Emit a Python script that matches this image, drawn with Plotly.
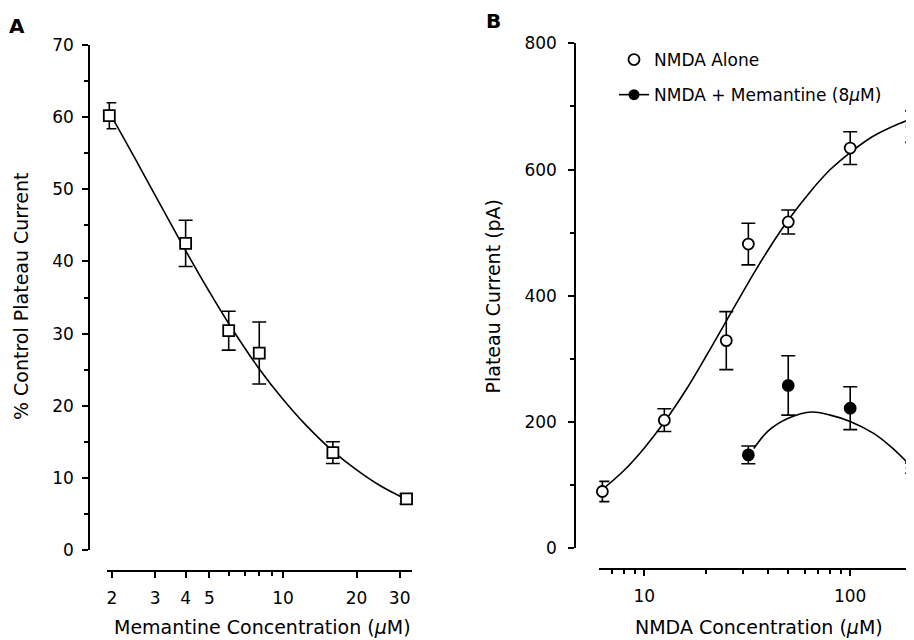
import math
import plotly.graph_objects as go

# ---------------- Data ----------------
# Panel A: memantine concentration-response
memantine_conc = [1.95, 4, 6, 8, 16, 32]
pct_control = [60.2, 42.5, 30.4, 27.3, 13.5, 7.1]
pct_err = [1.8, 3.2, 2.7, 4.3, 1.5, 0.7]
fit_a_x = [2, 2.5, 3, 4, 5, 6, 8, 10, 12.5, 16, 20, 25, 32]
fit_a_y = [60.0, 54.1, 49.2, 41.5, 35.8, 31.4, 25.1, 20.9, 17.2, 13.7, 11.1, 8.9, 7.0]

# Panel B: NMDA concentration-response
nmda_conc = [6.25, 12.5, 25, 32, 50, 100, 200]
nmda_alone = [90, 203, 329, 482, 517, 634, 668]
nmda_alone_err = [16, 18, 46, 33, 19, 26, 25]
nmda_mem_conc = [32, 50, 100, 200]
nmda_mem = [148, 258, 222, 127]
nmda_mem_err = [14, 47, 34, 8]
fit_b1_x = [6.25, 8, 10, 12.5, 16, 20, 25, 32, 40, 50, 64, 80, 100, 128, 160, 200]
fit_b1_y = [93, 124, 159, 200, 252, 305, 360, 421, 473, 520, 565, 600, 627, 652, 668, 681]
fit_b2_x = [34, 40, 50, 65, 80, 100, 130, 160, 200]
fit_b2_y = [158, 186, 206, 216, 211, 201, 182, 159, 128]

a_yticks = [0, 10, 20, 30, 40, 50, 60, 70]
a_yminor = [5, 15, 25, 35, 45, 55, 65]
a_xticks = [2, 3, 4, 5, 10, 20, 30]
a_xminor = [6, 7, 8, 9]
b_yticks = [0, 200, 400, 600, 800]
b_yminor = [100, 300, 500, 700]
b_xticks = [10, 100]
b_xminor = [6, 7, 8, 9, 20, 30, 40, 50, 60, 70, 80, 90, 200]

FONT = "DejaVu Sans"
OFF = 8            # page body margin offset
W, H = 914 - OFF, 640 - OFF
px = lambda v: (v - OFF) / W
py = lambda v: 1 - (v - OFF) / H

# panel A x scale: 244.6 px per decade, tick "2" at 112 px
A_LO = 1.9
a_left = 112 - 244.6 * math.log10(2 / A_LO)

fig = go.Figure()

# Panel A
fig.add_trace(go.Scatter(x=fit_a_x, y=fit_a_y, mode="lines", line=dict(color="black", width=1.6, shape="spline"),
                         xaxis="x", yaxis="y", showlegend=False, hoverinfo="skip"))
fig.add_trace(go.Scatter(x=memantine_conc, y=pct_control, mode="markers",
                         marker=dict(symbol="square", size=11, color="white", line=dict(color="black", width=1.8)),
                         error_y=dict(type="data", array=pct_err, color="black", thickness=1.6, width=7),
                         xaxis="x", yaxis="y", showlegend=False, cliponaxis=False))

# Panel B
fig.add_trace(go.Scatter(x=fit_b1_x, y=fit_b1_y, mode="lines", line=dict(color="black", width=1.6, shape="spline"),
                         xaxis="x2", yaxis="y2", showlegend=False, hoverinfo="skip"))
fig.add_trace(go.Scatter(x=fit_b2_x, y=fit_b2_y, mode="lines", line=dict(color="black", width=1.6, shape="spline"),
                         xaxis="x2", yaxis="y2", showlegend=False, hoverinfo="skip"))
fig.add_trace(go.Scatter(x=nmda_conc, y=nmda_alone, mode="markers", name="NMDA Alone",
                         marker=dict(symbol="circle", size=11, color="white", line=dict(color="black", width=1.8)),
                         error_y=dict(type="data", array=nmda_alone_err, color="black", thickness=1.6, width=7),
                         xaxis="x2", yaxis="y2", legendgroup="g1", cliponaxis=False))
fig.add_trace(go.Scatter(x=nmda_mem_conc, y=nmda_mem, mode="markers", name="NMDA + Memantine (8<i>μ</i>M)",
                         marker=dict(symbol="circle", size=11, color="black", line=dict(color="black", width=1.8)),
                         error_y=dict(type="data", array=nmda_mem_err, color="black", thickness=1.6, width=7),
                         xaxis="x2", yaxis="y2", showlegend=False, cliponaxis=False))
fig.add_trace(go.Scatter(x=[None], y=[None], mode="lines+markers", name="NMDA + Memantine (8<i>μ</i>M)",
                         marker=dict(symbol="circle", size=11, color="black"),
                         line=dict(color="black", width=1.6),
                         xaxis="x2", yaxis="y2", legendgroup="g2"))

axis_common = dict(showline=True, linecolor="black", linewidth=1.5, showgrid=False, zeroline=False,
                   ticks="outside", tickcolor="black", tickwidth=1.5, ticklen=6, automargin=False,
                   tickfont=dict(family=FONT, size=17, color="black"))
minor_common = dict(ticks="outside", ticklen=4, tickcolor="black", tickwidth=1.5)

def ann(text, x, y, size, angle=0):
    return dict(text=text, x=px(x), y=py(y), xref="paper", yref="paper", showarrow=False,
                xanchor="center", yanchor="middle", textangle=angle,
                font=dict(family=FONT, size=size, color="black"))

fig.update_layout(
    width=W, height=H, margin=dict(l=0, r=0, t=0, b=0, pad=0), autosize=False,
    paper_bgcolor="white", plot_bgcolor="white",
    font=dict(family=FONT, color="black"),
    xaxis=dict(**axis_common, type="log", domain=[px(a_left), px(411.7)],
               range=[math.log10(A_LO), 1.5263], anchor="free", position=py(571),
               tickvals=a_xticks, ticktext=[str(v) for v in a_xticks], ticklabelstandoff=6,
               minor=dict(tickvals=a_xminor, **minor_common)),
    yaxis=dict(**axis_common, domain=[py(550), py(45)], range=[0, 70], anchor="free", position=px(89),
               tickvals=a_yticks, ticklabelstandoff=5,
               minor=dict(tickvals=a_yminor, **minor_common)),
    xaxis2=dict(**axis_common, type="log", domain=[px(599.3), 1.0],
                range=[0.781, 2.31], anchor="free", position=py(569.3),
                tickvals=b_xticks, ticktext=[str(v) for v in b_xticks], ticklabelstandoff=6,
                minor=dict(tickvals=b_xminor, **minor_common)),
    yaxis2=dict(**axis_common, domain=[py(548.3), py(43.3)], range=[0, 800], anchor="free", position=px(575),
                tickvals=b_yticks, ticklabelstandoff=8,
                minor=dict(tickvals=b_yminor, **minor_common)),
    legend=dict(x=px(614), y=py(42), xanchor="left", yanchor="top", bgcolor="rgba(0,0,0,0)",
                font=dict(family=FONT, size=17, color="black"), traceorder="grouped", tracegroupgap=10),
    annotations=[
        ann("<b>A</b>", 17, 25.5, 20),
        ann("<b>B</b>", 494, 20.7, 20),
        ann("% Control Plateau Current", 21, 297, 19, -90),
        ann("Memantine Concentration (<i>μ</i>M)", 262, 627, 19),
        ann("Plateau Current (pA)", 492.5, 296, 19, -90),
        ann("NMDA Concentration (<i>μ</i>M)", 759, 627, 19),
    ],
)

fig.write_html("out.html")
